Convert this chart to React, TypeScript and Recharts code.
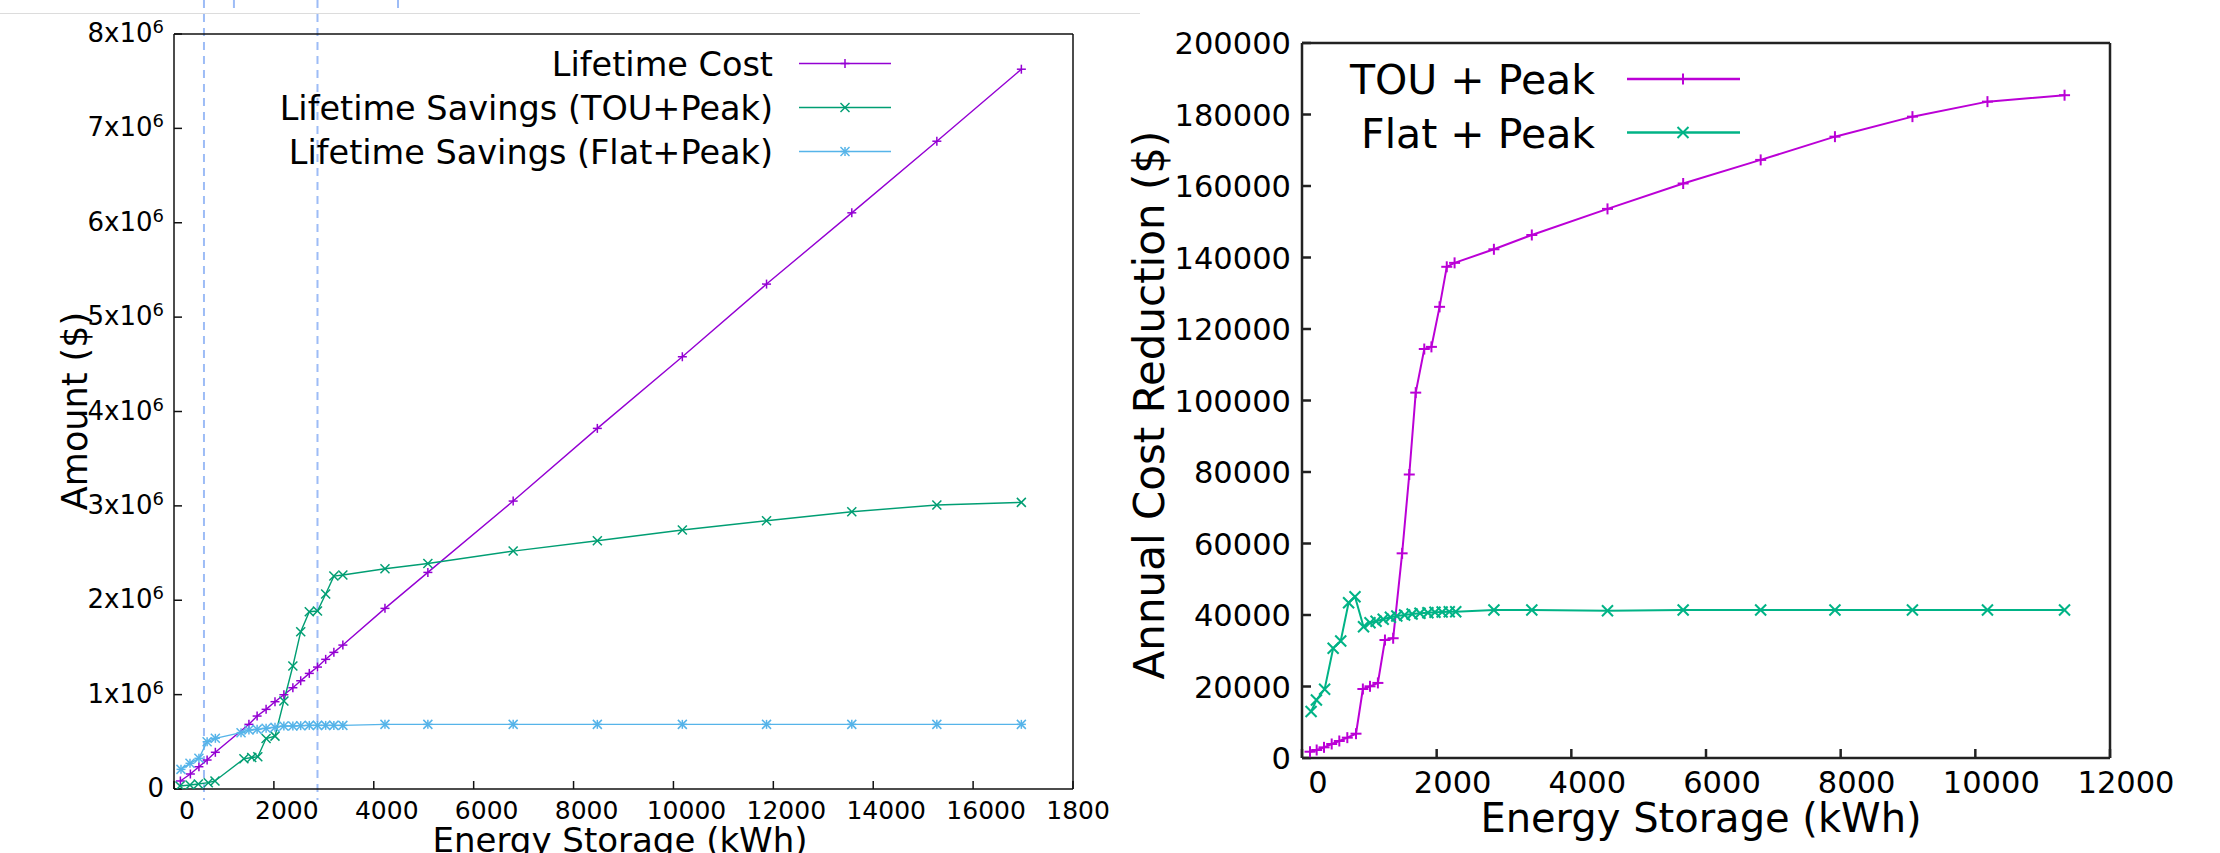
import React from 'react';
import { LineChart, Line, XAxis, YAxis, ReferenceLine, Legend } from 'recharts';

const FONT = "'DejaVu Sans', 'Noto Sans', sans-serif";

// ---------- Left chart: lifetime amounts (millions of $) vs energy storage (kWh)
const costKwh = [128, 328, 499, 663, 828, 1500, 1664, 1844, 2022, 2200, 2380, 2537, 2709, 2873, 3037, 3201, 3381, 4224, 5083, 6791, 8476, 10178, 11864, 13571, 15274, 16966];
const costMillions = [0.085, 0.159, 0.236, 0.307, 0.389, 0.685, 0.773, 0.844, 0.925, 0.999, 1.073, 1.147, 1.225, 1.292, 1.374, 1.448, 1.525, 1.914, 2.295, 3.051, 3.821, 4.58, 5.35, 6.105, 6.864, 7.627];

const touKwh = [120, 320, 487, 687, 820, 1400, 1556, 1678, 1844, 2022, 2200, 2380, 2537, 2709, 2873, 3037, 3201, 3381, 4224, 5083, 6791, 8476, 10178, 11864, 13571, 15274, 16966];
const touMillions = [0.032, 0.042, 0.053, 0.067, 0.085, 0.32, 0.334, 0.342, 0.535, 0.56, 0.932, 1.303, 1.667, 1.878, 1.886, 2.066, 2.256, 2.267, 2.334, 2.39, 2.521, 2.63, 2.744, 2.842, 2.938, 3.009, 3.037];

const flatKwh = [140, 320, 499, 663, 828, 1342, 1500, 1664, 1844, 2022, 2200, 2380, 2537, 2709, 2873, 3037, 3201, 3381, 4224, 5083, 6791, 8476, 10178, 11864, 13571, 15274, 16966];
const flatMillions = [0.208, 0.272, 0.325, 0.501, 0.537, 0.597, 0.625, 0.632, 0.643, 0.653, 0.667, 0.667, 0.671, 0.674, 0.674, 0.674, 0.674, 0.674, 0.685, 0.685, 0.685, 0.685, 0.685, 0.685, 0.685, 0.685, 0.685];

const dashedKwh = [600, 2873];
const stubKwh = [1200, 4485];
const leftXTicks = [0, 2000, 4000, 6000, 8000, 10000, 12000, 14000, 16000, 18000];
const leftYTicks = [0, 1, 2, 3, 4, 5, 6, 7, 8];
const leftLegend = ['Lifetime Cost', 'Lifetime Savings (TOU+Peak)', 'Lifetime Savings (Flat+Peak)'];
const leftColors = ['#9400d3', '#009e73', '#56b4e9'];
const leftShapes = ['plus', 'cross', 'star'];

// ---------- Right chart: annual cost reduction ($) vs energy storage (kWh)
const rTouKwh = [119, 218, 327, 441, 554, 673, 802, 904, 1010, 1127, 1232, 1354, 1487, 1593, 1689, 1816, 1922, 2043, 2150, 2266, 2850, 3413, 4537, 5661, 6812, 7915, 9066, 10180, 11325];
const rTouDollars = [1760, 2240, 2980, 3920, 4760, 5690, 6800, 19300, 20050, 21000, 33000, 33500, 57250, 79300, 102200, 114400, 115000, 126200, 137400, 138500, 142300, 146300, 153600, 160700, 167300, 173800, 179400, 183600, 185400];

const rFlatKwh = [135, 214, 336, 463, 575, 692, 787, 914, 1010, 1100, 1206, 1313, 1408, 1524, 1635, 1752, 1870, 1975, 2081, 2187, 2283, 2850, 3413, 4537, 5661, 6812, 7915, 9066, 10180, 11325];
const rFlatDollars = [13000, 16220, 19250, 30680, 32720, 43440, 45120, 36730, 37850, 38230, 38790, 39350, 39720, 40000, 40280, 40470, 40650, 40750, 40840, 40930, 40930, 41400, 41400, 41210, 41400, 41400, 41400, 41400, 41400, 41400];

const rightXTicks = [0, 2000, 4000, 6000, 8000, 10000, 12000];
const rightYTicks = [0, 20000, 40000, 60000, 80000, 100000, 120000, 140000, 160000, 180000, 200000];
const rightLegend = ['TOU + Peak', 'Flat + Peak'];
const rightColors = ['#bb00d6', '#00b386'];
const rightShapes = ['plus', 'cross'];

const toPoints = (xs: number[], ys: number[]) => xs.map((x, i) => ({ x, y: ys[i] }));

function Marker({ cx, cy, shape, color, size, sw }: any) {
  const h = size / 2;
  const plus = shape === 'plus' || shape === 'star';
  const cross = shape === 'cross' || shape === 'star';
  return (
    <g stroke={color} strokeWidth={sw} fill="none">
      {plus && <line x1={cx - h} y1={cy} x2={cx + h} y2={cy} />}
      {plus && <line x1={cx} y1={cy - h} x2={cx} y2={cy + h} />}
      {cross && <line x1={cx - h} y1={cy - h} x2={cx + h} y2={cy + h} />}
      {cross && <line x1={cx - h} y1={cy + h} x2={cx + h} y2={cy - h} />}
    </g>
  );
}

const dotFor = (shape: string, color: string, size: number, sw: number, prefix: string) => (p: any) => (
  <Marker key={`${prefix}-${p.index}`} cx={p.cx} cy={p.cy} shape={shape} color={color} size={size} sw={sw} />
);

const dashShape = (topOff: number, bottomFromTop: number | null, bottomOff: number) => (p: any) => {
  const top = Math.min(p.y1, p.y2);
  const bot = Math.max(p.y1, p.y2);
  const yEnd = bottomFromTop !== null ? top + bottomFromTop : bot + bottomOff;
  return <line x1={p.x1} x2={p.x1} y1={top + topOff} y2={yEnd} stroke="#9dbcf6" strokeWidth={2} strokeDasharray="8 6" />;
};

const LeftYTick = (p: any) => {
  const v = p.payload.value;
  return (
    <text x={p.x - 10} y={p.y + 8} textAnchor="end" fontSize={26} fontFamily={FONT} fill="#000">
      {v === 0 ? '0' : (
        <>
          <tspan>{`${v}x10`}</tspan>
          <tspan fontSize={18} dy={-9}>6</tspan>
        </>
      )}
    </text>
  );
};

const LeftXTick = (p: any) => (
  <text x={p.x + 13} y={p.y + 30} textAnchor="middle" fontSize={25} fontFamily={FONT} fill="#000">{p.payload.value}</text>
);

const RightYTick = (p: any) => (
  <text x={p.x - 11} y={p.y + 11} textAnchor="end" fontSize={30.5} fontFamily={FONT} fill="#000">{p.payload.value}</text>
);

const RightXTick = (p: any) => (
  <text x={p.x + 16} y={p.y + 35} textAnchor="middle" fontSize={30.5} fontFamily={FONT} fill="#000">{p.payload.value}</text>
);

const LeftLegendContent = () => (
  <svg width={1111} height={200} style={{ position: 'absolute', left: 0, top: 0, overflow: 'visible' }}>
    {leftLegend.map((label, i) => {
      const cy = 63.5 + i * 44;
      return (
        <g key={label}>
          <text x={773} y={cy + 12.5} textAnchor="end" fontSize={33.5} fontFamily={FONT} fill="#000">{label}</text>
          <line x1={799} x2={891} y1={cy} y2={cy} stroke={leftColors[i]} strokeWidth={1.5} />
          <Marker cx={845} cy={cy} shape={leftShapes[i]} color={leftColors[i]} size={9} sw={1.5} />
        </g>
      );
    })}
  </svg>
);

const RightLegendContent = () => (
  <svg width={1110} height={200} style={{ position: 'absolute', left: 0, top: 0, overflow: 'visible' }}>
    {rightLegend.map((label, i) => {
      const cy = 79 + i * 53.5;
      return (
        <g key={label}>
          <text x={485} y={cy + 15} textAnchor="end" fontSize={41} fontFamily={FONT} fill="#000">{label}</text>
          <line x1={517} x2={630} y1={cy} y2={cy} stroke={rightColors[i]} strokeWidth={2.5} />
          <Marker cx={573} cy={cy} shape={rightShapes[i]} color={rightColors[i]} size={11} sw={2} />
        </g>
      );
    })}
  </svg>
);

const axisStyleL = { stroke: '#111', strokeWidth: 1.5 };
const axisStyleR = { stroke: '#222', strokeWidth: 2.5 };

const LeftXTitle = () => (
  <text x={620} y={852} textAnchor="middle" fontSize={34} fontFamily={FONT} fill="#000">Energy Storage (kWh)</text>
);
const LeftYTitle = () => (
  <text x={87} y={411} transform="rotate(-90 87 411)" textAnchor="middle" fontSize={35} fontFamily={FONT} fill="#000">Amount ($)</text>
);
const RightXTitle = () => (
  <text x={591} y={832} textAnchor="middle" fontSize={40} fontFamily={FONT} fill="#000">Energy Storage (kWh)</text>
);
const RightYTitle = () => (
  <text x={54} y={405} transform="rotate(-90 54 405)" textAnchor="middle" fontSize={42} fontFamily={FONT} fill="#000">Annual Cost Reduction ($)</text>
);

function LeftChart() {
  return (
    <LineChart width={1111} height={853} margin={{ top: 24, right: 28, bottom: 34, left: 94 }}>
      <XAxis xAxisId={0} dataKey="x" type="number" domain={[0, 18000]} ticks={leftXTicks} interval={0} allowDataOverflow
        height={30} tickSize={-8} tickMargin={8} axisLine={axisStyleL} tickLine={axisStyleL} tick={<LeftXTick />}
        label={<LeftXTitle />} />
      <XAxis xAxisId="top" orientation="top" dataKey="x" type="number" domain={[0, 18000]} ticks={leftXTicks} interval={0} allowDataOverflow
        height={10} tickSize={-8} axisLine={axisStyleL} tickLine={axisStyleL} tick={false} />
      <YAxis yAxisId={0} type="number" domain={[0, 8]} ticks={leftYTicks} interval={0} allowDataOverflow
        width={80} tickSize={-8} tickMargin={8} axisLine={axisStyleL} tickLine={axisStyleL} tick={<LeftYTick />}
        label={<LeftYTitle />} />
      <YAxis yAxisId="right" orientation="right" type="number" domain={[0, 8]} ticks={leftYTicks} interval={0} allowDataOverflow
        width={10} tickSize={-8} axisLine={axisStyleL} tickLine={axisStyleL} tick={false} />
      {dashedKwh.map((k) => (
        <ReferenceLine key={`d${k}`} x={k} shape={dashShape(-34, null, 11)} />
      ))}
      {stubKwh.map((k) => (
        <ReferenceLine key={`s${k}`} x={k} shape={dashShape(-34, -21, 0)} />
      ))}
      <Line data={toPoints(costKwh, costMillions)} dataKey="y" type="linear" stroke={leftColors[0]} strokeWidth={1.4}
        dot={dotFor('plus', leftColors[0], 9, 1.5, 'c')} activeDot={false} isAnimationActive={false} />
      <Line data={toPoints(touKwh, touMillions)} dataKey="y" type="linear" stroke={leftColors[1]} strokeWidth={1.4}
        dot={dotFor('cross', leftColors[1], 9, 1.5, 't')} activeDot={false} isAnimationActive={false} />
      <Line data={toPoints(flatKwh, flatMillions)} dataKey="y" type="linear" stroke={leftColors[2]} strokeWidth={1.4}
        dot={dotFor('star', leftColors[2], 9, 1.5, 'f')} activeDot={false} isAnimationActive={false} />
      <Legend layout="horizontal" verticalAlign="middle" align="center" content={<LeftLegendContent />}
        wrapperStyle={{ position: 'absolute', left: 0, top: 0, width: 1111, height: 200, pointerEvents: 'none' }} />
    </LineChart>
  );
}

function RightChart() {
  return (
    <LineChart width={1110} height={853} margin={{ top: 33, right: 100, bottom: 65, left: 112 }}>
      <XAxis xAxisId={0} dataKey="x" type="number" domain={[0, 12000]} ticks={rightXTicks} interval={0} allowDataOverflow
        height={30} tickSize={-9} tickMargin={9} axisLine={axisStyleR} tickLine={axisStyleR} tick={<RightXTick />}
        label={<RightXTitle />} />
      <XAxis xAxisId="top" orientation="top" dataKey="x" type="number" domain={[0, 12000]} ticks={rightXTicks} interval={0} allowDataOverflow
        height={10} tickSize={-9} axisLine={axisStyleR} tickLine={axisStyleR} tick={false} />
      <YAxis yAxisId={0} type="number" domain={[0, 200000]} ticks={rightYTicks} interval={0} allowDataOverflow
        width={80} tickSize={-9} tickMargin={9} axisLine={axisStyleR} tickLine={axisStyleR} tick={<RightYTick />}
        label={<RightYTitle />} />
      <YAxis yAxisId="right" orientation="right" type="number" domain={[0, 200000]} ticks={rightYTicks} interval={0} allowDataOverflow
        width={10} tickSize={-9} axisLine={axisStyleR} tickLine={axisStyleR} tick={false} />
      <Line data={toPoints(rTouKwh, rTouDollars)} dataKey="y" type="linear" stroke={rightColors[0]} strokeWidth={2}
        dot={dotFor('plus', rightColors[0], 11, 2, 'rt')} activeDot={false} isAnimationActive={false} />
      <Line data={toPoints(rFlatKwh, rFlatDollars)} dataKey="y" type="linear" stroke={rightColors[1]} strokeWidth={2}
        dot={dotFor('cross', rightColors[1], 11, 2, 'rf')} activeDot={false} isAnimationActive={false} />
      <Legend layout="horizontal" verticalAlign="middle" align="center" content={<RightLegendContent />}
        wrapperStyle={{ position: 'absolute', left: 0, top: 0, width: 1110, height: 200, pointerEvents: 'none' }} />
    </LineChart>
  );
}

export default function App() {
  return (
    <div style={{ position: 'absolute', left: 0, top: 0, width: 2220, height: 853, background: '#fff', overflow: 'hidden', fontFamily: FONT }}>
      <div style={{ position: 'absolute', left: 0, top: 0, width: 1111, height: 853, overflow: 'hidden' }}>
        <LeftChart />
      </div>
      <div style={{ position: 'absolute', left: 1110, top: 0, width: 1110, height: 853, overflow: 'hidden' }}>
        <RightChart />
      </div>
      <div style={{ position: 'absolute', left: 0, top: 13, width: 1140, height: 1, background: '#dcdcdc' }} />
    </div>
  );
}
